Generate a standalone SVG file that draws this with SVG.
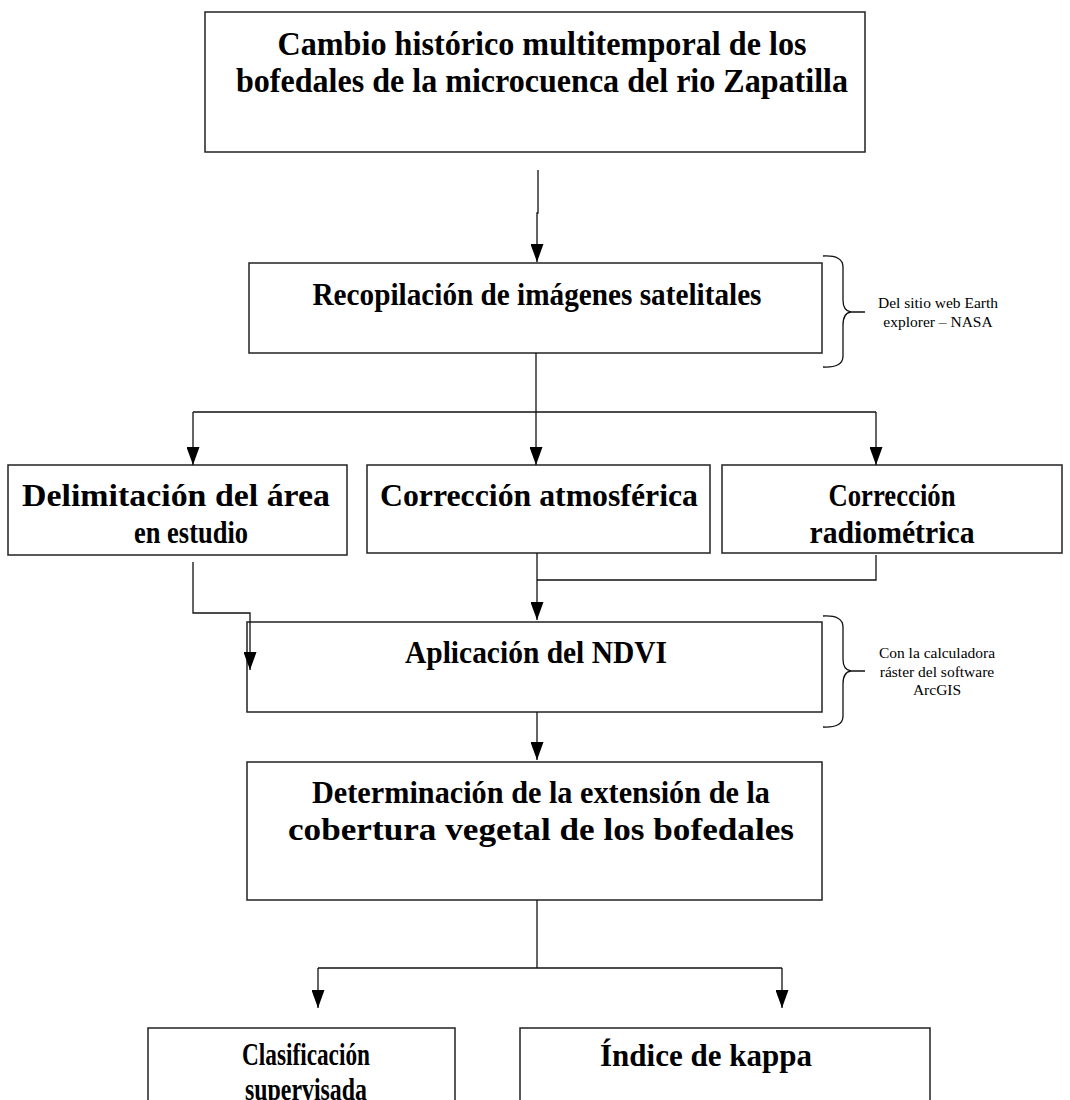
<svg xmlns="http://www.w3.org/2000/svg" width="1070" height="1100" viewBox="0 0 1070 1100">
<style>
.box{fill:#fff;stroke:#222;stroke-width:1.5}
.t{font-family:"Liberation Serif","Times New Roman",serif;font-weight:bold;text-anchor:middle;fill:#000}
.s{font-family:"Liberation Serif","Times New Roman",serif;font-size:15.5px;text-anchor:middle;fill:#000}
.c{fill:none;stroke:#111;stroke-width:1.3}
.br{fill:none;stroke:#111;stroke-width:1.3}
</style>
<defs>
<marker id="ah" viewBox="0 0 13 18" markerWidth="13" markerHeight="18" refX="6.5" refY="18" orient="0" markerUnits="userSpaceOnUse">
<path d="M0,0 L13,0 L6.5,18 z" fill="#000"/>
</marker>
</defs>
<rect width="1070" height="1100" fill="#fff"/>

<g id="n1">
<rect class="box" x="205" y="12" width="660" height="140"/>
<text class="t" x="542" y="55" font-size="33" textLength="529" lengthAdjust="spacingAndGlyphs">Cambio histórico multitemporal de los</text>
<text class="t" x="542" y="92" font-size="33" textLength="612" lengthAdjust="spacingAndGlyphs">bofedales de la microcuenca del rio Zapatilla</text>
</g>

<g id="n2">
<rect class="box" x="249" y="263" width="573" height="90"/>
<text class="t" x="537" y="305" font-size="31" textLength="449" lengthAdjust="spacingAndGlyphs">Recopilación de imágenes satelitales</text>
</g>

<g id="note1">
<path class="br" d="M823,256 Q843,255 843,267 V300 Q843,311 851,312 H865 M851,312 Q843,313 843,325 V356 Q843,368 823,367"/>
<text class="s" x="938" y="308">Del sitio web Earth</text>
<text class="s" x="938" y="327">explorer – NASA</text>
</g>

<g id="n3">
<rect class="box" x="8" y="465" width="339" height="90"/>
<text class="t" x="176" y="506" font-size="31" textLength="308" lengthAdjust="spacingAndGlyphs">Delimitación del área</text>
<text class="t" x="191" y="543" font-size="31" textLength="114" lengthAdjust="spacingAndGlyphs">en estudio</text>
</g>

<g id="n4">
<rect class="box" x="367" y="465" width="343" height="88"/>
<text class="t" x="539" y="506" font-size="31" textLength="318" lengthAdjust="spacingAndGlyphs">Corrección atmosférica</text>
</g>

<g id="n5">
<rect class="box" x="722" y="465" width="340" height="88"/>
<text class="t" x="892" y="506" font-size="31" textLength="127" lengthAdjust="spacingAndGlyphs">Corrección</text>
<text class="t" x="892" y="543" font-size="31" textLength="165" lengthAdjust="spacingAndGlyphs">radiométrica</text>
</g>

<g id="n6">
<rect class="box" x="247" y="622" width="575" height="90"/>
<text class="t" x="536" y="663" font-size="31" textLength="262" lengthAdjust="spacingAndGlyphs">Aplicación del NDVI</text>
</g>

<g id="note2">
<path class="br" d="M823,616 Q843,615 843,627 V659 Q843,670 851,671 H865 M851,671 Q843,672 843,684 V716 Q843,728 823,727"/>
<text class="s" x="937" y="658">Con la calculadora</text>
<text class="s" x="937" y="677">ráster del software</text>
<text class="s" x="937" y="695">ArcGIS</text>
</g>

<g id="n7">
<rect class="box" x="247" y="762" width="575" height="138"/>
<text class="t" x="541" y="803" font-size="31" textLength="458" lengthAdjust="spacingAndGlyphs">Determinación de la extensión de la</text>
<text class="t" x="541" y="840" font-size="31" textLength="506" lengthAdjust="spacingAndGlyphs">cobertura vegetal de los bofedales</text>
</g>

<g id="n8">
<rect class="box" x="148" y="1028" width="307" height="90"/>
<text class="t" x="306" y="1065" font-size="31" textLength="128" lengthAdjust="spacingAndGlyphs">Clasificación</text>
<text class="t" x="306" y="1100" font-size="31" textLength="122" lengthAdjust="spacingAndGlyphs">supervisada</text>
</g>

<g id="n9">
<rect class="box" x="520" y="1028" width="410" height="90"/>
<text class="t" x="706" y="1066" font-size="31" textLength="212" lengthAdjust="spacingAndGlyphs">Índice de kappa</text>
</g>

<g id="connectors">
<path class="c" d="M538,170 V213 H537 V262" marker-end="url(#ah)"/>
<path class="c" d="M536,353 V465" marker-end="url(#ah)"/>
<path class="c" d="M193,412 H876"/>
<path class="c" d="M193,412 V465" marker-end="url(#ah)"/>
<path class="c" d="M876,412 V465" marker-end="url(#ah)"/>
<path class="c" d="M537,553 V620" marker-end="url(#ah)"/>
<path class="c" d="M876,555 V580 H537"/>
<path class="c" d="M193,562 V613 H250 V670" marker-end="url(#ah)"/>
<path class="c" d="M537,712 V760" marker-end="url(#ah)"/>
<path class="c" d="M537,900 V968"/>
<path class="c" d="M318,968 H782"/>
<path class="c" d="M318,968 V1008" marker-end="url(#ah)"/>
<path class="c" d="M782,968 V1008" marker-end="url(#ah)"/>
</g>
</svg>
